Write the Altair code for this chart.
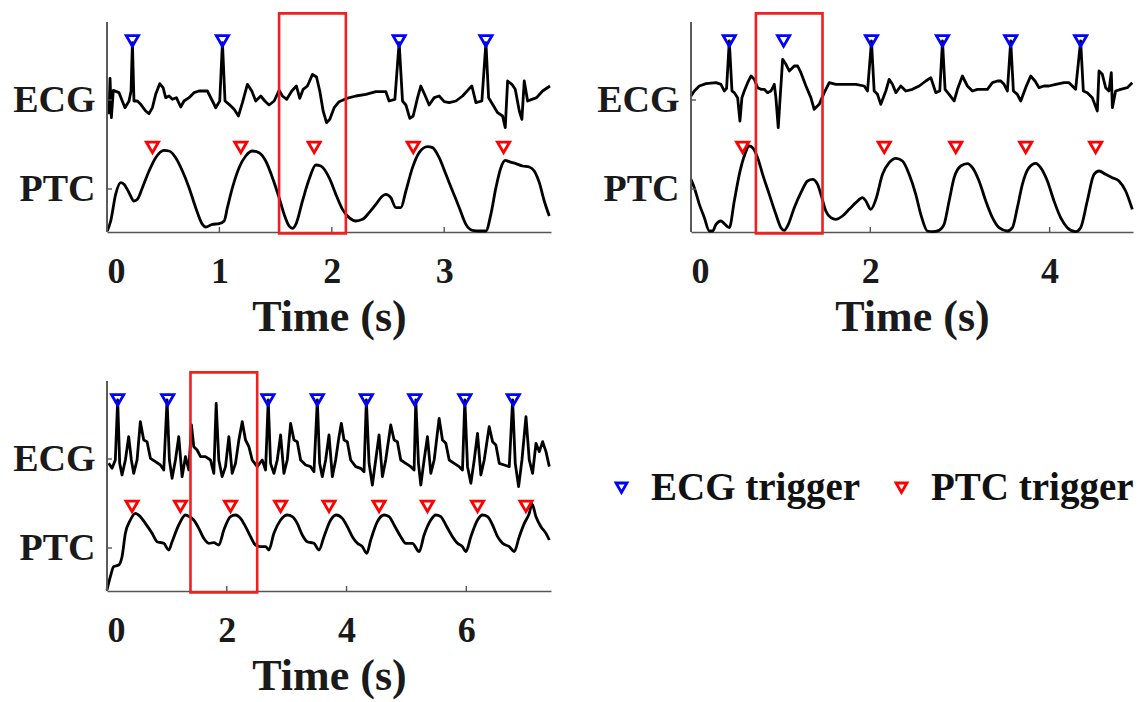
import altair as alt
import pandas as pd

# ---------------- Panel A (top-left) ----------------
A_ECG_T = [0.018, 0.027, 0.039, 0.056, 0.107, 0.136, 0.160, 0.196, 0.214, 0.226, 0.240, 0.270, 0.300, 0.344, 0.374, 0.404,
           0.433, 0.469, 0.499, 0.522, 0.552, 0.582, 0.617, 0.656, 0.685, 0.730, 0.774, 0.819, 0.893, 0.938, 0.967, 1.003,
           1.027, 1.050, 1.086, 1.131, 1.169, 1.205, 1.249, 1.288, 1.323, 1.368, 1.404, 1.442, 1.487, 1.531, 1.561, 1.599,
           1.644, 1.685, 1.715, 1.745, 1.783, 1.828, 1.864, 1.893, 1.923, 1.953, 1.982, 2.021, 2.065, 2.125, 2.214, 2.303,
           2.392, 2.481, 2.510, 2.561, 2.599, 2.629, 2.659, 2.694, 2.724, 2.763, 2.792, 2.828, 2.866, 2.911, 2.955, 3.000,
           3.045, 3.104, 3.163, 3.217, 3.246, 3.282, 3.335, 3.371, 3.395, 3.430, 3.475, 3.519, 3.543, 3.564, 3.602, 3.632,
           3.668, 3.691, 3.712, 3.742, 3.780, 3.822, 3.875, 3.941]
A_ECG_V = [353, 461, 343, 425, 418, 393, 373, 393, 423, 568, 393, 393, 383, 363, 355, 373,
           413, 445, 433, 403, 408, 398, 403, 375, 393, 403, 418, 423, 423, 393, 373, 393,
           568, 393, 383, 368, 348, 388, 443, 423, 393, 408, 393, 381, 393, 425, 408, 398,
           423, 438, 401, 428, 438, 473, 465, 423, 363, 328, 338, 373, 391, 400, 408, 413,
           421, 421, 393, 398, 568, 393, 381, 341, 348, 403, 438, 411, 381, 403, 408, 391,
           388, 393, 408, 428, 438, 388, 393, 568, 403, 383, 358, 348, 313, 453, 443, 428,
           363, 338, 453, 393, 398, 403, 423, 438]
A_PTC_T = [0.003, 0.033, 0.077, 0.122, 0.151, 0.196, 0.240, 0.270, 0.315, 0.374, 0.433, 0.507, 0.552, 0.611, 0.671, 0.730,
           0.789, 0.849, 0.878, 0.938, 0.997, 1.042, 1.071, 1.116, 1.175, 1.234, 1.294, 1.353, 1.412, 1.472, 1.531, 1.576,
           1.620, 1.650, 1.680, 1.739, 1.798, 1.858, 1.902, 1.976, 2.036, 2.095, 2.154, 2.214, 2.273, 2.332, 2.392, 2.451,
           2.481, 2.525, 2.570, 2.614, 2.659, 2.718, 2.777, 2.852, 2.896, 2.955, 3.015, 3.074, 3.134, 3.193, 3.252, 3.312,
           3.371, 3.415, 3.460, 3.504, 3.543, 3.579, 3.638, 3.697, 3.757, 3.801, 3.846, 3.890, 3.935]
A_PTC_V = [3, 33, 113, 148, 143, 118, 93, 98, 133, 183, 223, 245, 243, 223, 183, 133,
           73, 23, 15, 23, 25, 33, 73, 133, 193, 228, 243, 238, 213, 163, 103, 53,
           18, 11, 23, 93, 158, 201, 198, 163, 113, 68, 43, 33, 38, 58, 83, 108,
           113, 103, 73, 73, 123, 193, 238, 256, 253, 223, 173, 123, 73, 23, 5, 3,
           3, 53, 133, 193, 215, 211, 205, 198, 195, 183, 148, 93, 48]
A_ECG_TRIG = [0.226, 1.027, 2.599, 3.371]
A_PTC_TRIG = [0.404, 1.190, 1.843, 2.724, 3.528]
A_BOX = [1.531, 2.125]
A_XMAX = 3.95
A_XTICKS = [0, 1, 2, 3]

# ---------------- Panel B (top-right) ----------------
B_ECG_T = [0.000, 0.037, 0.093, 0.167, 0.279, 0.334, 0.371, 0.397, 0.427, 0.457, 0.483, 0.520, 0.546, 0.568, 0.594, 0.632,
           0.669, 0.706, 0.743, 0.780, 0.817, 0.854, 0.892, 0.929, 0.947, 0.973, 0.992, 1.022, 1.059, 1.096, 1.152, 1.189,
           1.226, 1.282, 1.337, 1.374, 1.430, 1.486, 1.542, 1.616, 1.727, 1.839, 1.932, 1.969, 2.013, 2.043, 2.080, 2.117,
           2.173, 2.210, 2.247, 2.285, 2.340, 2.396, 2.470, 2.545, 2.619, 2.675, 2.730, 2.775, 2.805, 2.834, 2.879, 2.935,
           2.972, 3.027, 3.083, 3.139, 3.195, 3.250, 3.306, 3.362, 3.418, 3.455, 3.492, 3.529, 3.566, 3.596, 3.640, 3.678,
           3.733, 3.789, 3.837, 3.882, 3.938, 3.993, 4.068, 4.160, 4.216, 4.290, 4.346, 4.376, 4.420, 4.476, 4.532, 4.551,
           4.588, 4.625, 4.662, 4.688, 4.700, 4.736, 4.792, 4.866, 4.922]
B_ECG_V = [408, 423, 438, 445, 448, 443, 423, 431, 573, 423, 418, 403, 333, 403, 423, 448,
           468, 458, 433, 428, 428, 418, 423, 443, 403, 313, 393, 518, 503, 483, 498, 498,
           478, 438, 403, 368, 383, 418, 448, 443, 443, 443, 438, 423, 573, 423, 413, 383,
           423, 458, 443, 418, 438, 423, 428, 438, 453, 463, 418, 423, 573, 428, 413, 393,
           428, 468, 438, 423, 428, 428, 428, 448, 453, 453, 443, 423, 573, 423, 413, 393,
           433, 468, 453, 433, 438, 438, 443, 448, 448, 428, 573, 423, 418, 403, 363, 483,
           473, 433, 423, 478, 373, 423, 428, 433, 448]
B_PTC_T = [0.000, 0.037, 0.093, 0.149, 0.204, 0.241, 0.279, 0.334, 0.371, 0.427, 0.483, 0.539, 0.594, 0.650, 0.687, 0.743,
           0.799, 0.873, 0.947, 1.003, 1.040, 1.077, 1.152, 1.226, 1.300, 1.356, 1.412, 1.449, 1.504, 1.560, 1.616, 1.690,
           1.764, 1.839, 1.913, 1.950, 2.006, 2.062, 2.136, 2.210, 2.285, 2.359, 2.433, 2.507, 2.563, 2.637, 2.693, 2.767,
           2.823, 2.879, 2.935, 3.009, 3.083, 3.139, 3.213, 3.288, 3.362, 3.436, 3.529, 3.585, 3.640, 3.696, 3.770, 3.845,
           3.900, 3.975, 4.049, 4.123, 4.198, 4.290, 4.346, 4.420, 4.495, 4.551, 4.625, 4.699, 4.773, 4.848, 4.922]
B_PTC_V = [158, 133, 83, 43, 3, 3, 23, 33, 25, 13, 93, 173, 228, 258, 253, 223,
           173, 113, 53, 13, 5, 18, 73, 118, 153, 158, 143, 113, 63, 43, 38, 48,
           68, 88, 103, 93, 68, 98, 173, 208, 221, 213, 173, 113, 53, 3, 1, 5,
           23, 93, 163, 198, 205, 193, 153, 93, 43, 13, 3, 13, 73, 143, 193, 206,
           193, 153, 93, 43, 13, 1, 13, 93, 173, 183, 173, 163, 153, 123, 68]
B_ECG_TRIG = [0.427, 1.033, 2.013, 2.805, 3.566, 4.346]
B_PTC_TRIG = [0.576, 2.155, 2.953, 3.733, 4.513]
B_BOX = [0.724, 1.467]
B_XMAX = 4.93
B_XTICKS = [0, 2, 4]

# ---------------- Panel C (bottom-left) ----------------
C_ECG_T = [0.028, 0.084, 0.139, 0.178, 0.212, 0.251, 0.307, 0.362, 0.407, 0.446, 0.502, 0.557, 0.613, 0.669, 0.725, 0.808,
           0.892, 0.948, 1.003, 1.042, 1.087, 1.143, 1.198, 1.254, 1.310, 1.366, 1.410, 1.449, 1.505, 1.561, 1.644, 1.728,
           1.784, 1.823, 1.867, 1.923, 1.979, 2.035, 2.090, 2.146, 2.202, 2.258, 2.313, 2.369, 2.425, 2.508, 2.592, 2.648,
           2.692, 2.731, 2.787, 2.843, 2.899, 2.954, 3.010, 3.066, 3.122, 3.177, 3.233, 3.317, 3.400, 3.456, 3.512, 3.551,
           3.595, 3.651, 3.707, 3.763, 3.818, 3.874, 3.913, 3.958, 4.013, 4.069, 4.153, 4.236, 4.292, 4.331, 4.376, 4.431,
           4.487, 4.543, 4.599, 4.654, 4.738, 4.794, 4.849, 4.905, 4.989, 5.072, 5.128, 5.156, 5.201, 5.240, 5.295, 5.351,
           5.407, 5.463, 5.546, 5.602, 5.658, 5.714, 5.797, 5.881, 5.936, 5.975, 6.020, 6.076, 6.132, 6.187, 6.243, 6.299,
           6.382, 6.438, 6.494, 6.550, 6.633, 6.717, 6.773, 6.817, 6.873, 6.929, 6.996, 7.051, 7.107, 7.163, 7.219, 7.274,
           7.330, 7.386]
C_ECG_V = [383, 368, 393, 573, 383, 348, 393, 463, 393, 353, 393, 508, 453, 448, 398, 388,
           378, 363, 573, 393, 338, 393, 463, 343, 403, 363, 498, 433, 423, 403, 403, 393,
           353, 563, 393, 343, 373, 463, 353, 383, 453, 508, 453, 433, 393, 373, 393, 363,
           573, 383, 353, 393, 468, 353, 393, 503, 453, 448, 393, 378, 373, 358, 573, 383,
           343, 393, 468, 343, 393, 463, 503, 453, 448, 393, 373, 368, 358, 573, 383, 318,
           393, 468, 343, 393, 498, 453, 448, 393, 383, 373, 363, 573, 383, 318, 393, 463,
           353, 393, 518, 453, 443, 393, 383, 373, 363, 573, 373, 323, 393, 473, 348, 393,
           493, 448, 438, 383, 378, 373, 573, 383, 313, 393, 523, 393, 353, 443, 418, 448,
           418, 373]
C_PTC_T = [0.000, 0.056, 0.111, 0.195, 0.251, 0.307, 0.390, 0.474, 0.557, 0.641, 0.753, 0.836, 0.948, 1.031, 1.087, 1.198,
           1.310, 1.377, 1.449, 1.533, 1.616, 1.700, 1.784, 1.867, 1.951, 2.062, 2.146, 2.230, 2.313, 2.397, 2.480, 2.564,
           2.648, 2.703, 2.787, 2.899, 3.010, 3.094, 3.177, 3.261, 3.344, 3.456, 3.540, 3.623, 3.735, 3.829, 3.930, 4.013,
           4.097, 4.181, 4.264, 4.337, 4.404, 4.515, 4.627, 4.710, 4.794, 4.905, 4.989, 5.100, 5.212, 5.295, 5.407, 5.491,
           5.574, 5.658, 5.769, 5.853, 5.936, 5.992, 6.076, 6.187, 6.271, 6.355, 6.438, 6.522, 6.605, 6.717, 6.800, 6.884,
           6.968, 7.051, 7.096, 7.163, 7.246, 7.330, 7.386]
C_PTC_V = [3, 43, 73, 78, 103, 173, 213, 233, 223, 203, 173, 148, 143, 123, 148, 198,
           228, 223, 213, 188, 158, 143, 145, 138, 183, 223, 228, 218, 193, 163, 138, 133,
           133, 123, 173, 213, 228, 223, 203, 168, 148, 143, 123, 163, 213, 228, 218, 193,
           163, 143, 133, 113, 153, 208, 228, 223, 198, 163, 143, 143, 118, 168, 213, 228,
           223, 198, 163, 143, 133, 118, 163, 213, 228, 223, 198, 163, 143, 133, 118, 163,
           203, 233, 261, 223, 193, 173, 153]
C_ECG_TRIG = [0.178, 1.014, 2.687, 3.512, 4.331, 5.139, 5.975, 6.784]
C_PTC_TRIG = [0.418, 1.226, 2.062, 2.899, 3.707, 4.543, 5.351, 6.187, 6.996]
C_BOX = [1.394, 2.508]
C_XMAX = 7.414
C_XTICKS = [0, 2, 4, 6]

# ---------------- shared ----------------
ECG_TRIG_LEVEL = 573
PTC_TRIG_LEVEL = 254
Y_MAX = 657
Y_AXIS_TOP = 630
BOX_Y = [-4, 656]
Y_TICKS = [129, 396]
Y_TICK_LABELS = ["PTC", "ECG"]
LEGEND_LABELS = ["ECG trigger", "PTC trigger"]
LEGEND_COLORS = ["#0000ff", "#ff0000"]

FONT = "Liberation Serif"
W_A, W_B, W_C = 444, 442, 444
H = 219

label_expr = "datum.value < %d ? '%s' : '%s'" % ((Y_TICKS[0] + Y_TICKS[1]) // 2, Y_TICK_LABELS[0], Y_TICK_LABELS[1])


def panel(ecg_t, ecg_v, ptc_t, ptc_v, ecg_trig, ptc_trig, box, xmax, xticks, width):
    ecg = pd.DataFrame({"t": ecg_t, "v": ecg_v})
    ptc = pd.DataFrame({"t": ptc_t, "v": ptc_v})
    trig = pd.DataFrame({
        "t": ecg_trig + ptc_trig,
        "v": [ECG_TRIG_LEVEL] * len(ecg_trig) + [PTC_TRIG_LEVEL] * len(ptc_trig),
        "kind": [LEGEND_LABELS[0]] * len(ecg_trig) + [LEGEND_LABELS[1]] * len(ptc_trig),
    })
    box_df = pd.DataFrame({"t0": [box[0]], "t1": [box[1]], "v0": [BOX_Y[0]], "v1": [BOX_Y[1]]})
    xt_df = pd.DataFrame({"t": xticks})
    yt_df = pd.DataFrame({"v": Y_TICKS})

    xs = alt.Scale(domain=[0, xmax], nice=False, zero=False)
    ys = alt.Scale(domain=[0, Y_MAX], nice=False, zero=False)

    x = alt.X("t:Q", scale=xs, axis=alt.Axis(
        values=xticks, title="Time (s)", format="d", grid=False, tickSize=0,
        labelPadding=22, titlePadding=6, domainColor="#555555", domainWidth=1.6,
        labelFont=FONT, labelFontSize=36, labelFontWeight="bold", labelColor="#1a1a1a",
        titleFont=FONT, titleFontSize=44, titleFontWeight="bold", titleColor="#1a1a1a"))
    y = alt.Y("v:Q", scale=ys, axis=alt.Axis(
        values=Y_TICKS, labelExpr=label_expr, title=None, grid=False, domain=False, tickSize=0,
        labelPadding=12, labelFont=FONT, labelFontSize=38, labelFontWeight="bold", labelColor="#1a1a1a"))

    base_x = alt.X("t:Q", scale=xs)
    base_y = alt.Y("v:Q", scale=ys)

    ecg_line = alt.Chart(ecg).mark_line(color="black", strokeWidth=2.8, strokeJoin="round").encode(x=x, y=y)
    ptc_line = alt.Chart(ptc).mark_line(color="black", strokeWidth=2.8, interpolate="monotone").encode(
        x=base_x, y=base_y)

    markers = alt.Chart(trig).mark_point(shape="triangle-down", filled=False, size=150,
                                         strokeWidth=2.8, opacity=1).encode(
        x=base_x, y=base_y,
        color=alt.Color("kind:N", scale=alt.Scale(domain=LEGEND_LABELS, range=LEGEND_COLORS),
                        legend=alt.Legend(
                            title=None, orient="none", legendX=495, legendY=455, direction="horizontal",
                            labelFont=FONT, labelFontSize=39, labelFontWeight="bold", labelColor="#111111",
                            labelLimit=0, symbolType="triangle-down", symbolSize=120, symbolStrokeWidth=2.8,
                            labelOffset=10, columnPadding=21, padding=0)))

    rect = alt.Chart(box_df).mark_rect(fillOpacity=0, stroke="#f02020", strokeWidth=2.6, clip=False).encode(
        x=alt.X("t0:Q", scale=xs), x2="t1:Q", y=alt.Y("v0:Q", scale=ys), y2="v1:Q")

    yline = alt.Chart(yt_df).mark_rule(color="#555555", strokeWidth=1.6).encode(
        x=alt.value(0), y=alt.datum(0, scale=ys), y2=alt.datum(Y_AXIS_TOP))

    xtick = alt.Chart(xt_df).mark_rule(color="#555555", strokeWidth=1.4).encode(
        x=alt.X("t:Q", scale=xs), y=alt.value(H), y2=alt.value(H - 5))
    ytick = alt.Chart(yt_df).mark_rule(color="#555555", strokeWidth=1.4).encode(
        y=alt.Y("v:Q", scale=ys), x=alt.value(0), x2=alt.value(5))

    return alt.layer(ecg_line, ptc_line, yline, xtick, ytick, rect, markers).properties(width=width, height=H)


pA = panel(A_ECG_T, A_ECG_V, A_PTC_T, A_PTC_V, A_ECG_TRIG, A_PTC_TRIG, A_BOX, A_XMAX, A_XTICKS, W_A)
pB = panel(B_ECG_T, B_ECG_V, B_PTC_T, B_PTC_V, B_ECG_TRIG, B_PTC_TRIG, B_BOX, B_XMAX, B_XTICKS, W_B)
pC = panel(C_ECG_T, C_ECG_V, C_PTC_T, C_PTC_V, C_ECG_TRIG, C_PTC_TRIG, C_BOX, C_XMAX, C_XTICKS, W_C)

chart = alt.concat(pA, pB, pC, columns=2, spacing=140, bounds="flush").resolve_scale(
    color="shared").resolve_legend(color="shared").properties(
    padding={"left": 12, "top": 12, "right": 0, "bottom": 4}, background="white"
).configure_view(stroke=None)

chart.save("out.html", embed_options={"renderer": "svg", "actions": False})
